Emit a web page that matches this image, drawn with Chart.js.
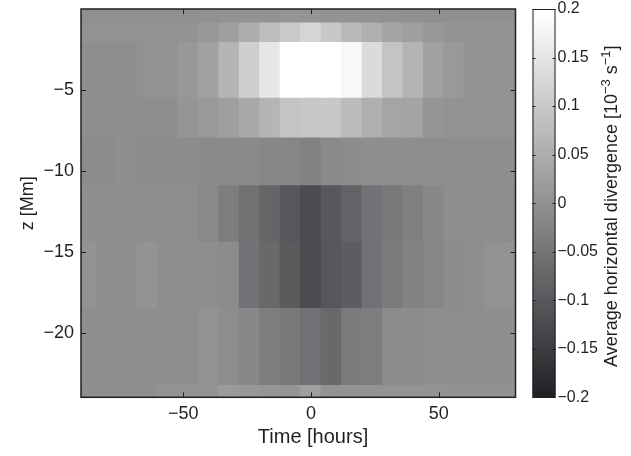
<!DOCTYPE html>
<html><head><meta charset="utf-8">
<script src="https://cdn.jsdelivr.net/npm/chart.js@4.4.0/dist/chart.umd.min.js"></script>
<style>html,body{margin:0;padding:0;background:#fff;}#wrap{width:631px;height:456px;}</style>
</head><body><div id="wrap"><canvas id="c" width="631" height="456"></canvas></div>
<script>
// ---- data ----
const timeCenters = [-88,-80,-72,-64,-56,-48,-40,-32,-24,-16,-8,0,8,16,24,32,40,48,56,64,72,80];
const depthEdges = [0,-0.8,-2.0,-5.45,-7.9,-10.85,-14.35,-18.45,-23.2,-24];
const row0 = [-0.003,-0.003,-0.003,-0.002,-0.002,-0.001,0.000,0.002,0.004,0.005,0.006,0.006,0.005,0.004,0.002,0.000,-0.001,-0.002,-0.002,-0.003,-0.003,-0.003];
const row1 = [0.002,0.002,0.002,0.002,0.002,0.005,0.013,0.027,0.053,0.082,0.105,0.124,0.100,0.076,0.056,0.036,0.027,0.013,0.007,0.004,0.004,0.004];
const row2 = [-0.005,-0.005,-0.005,0.002,0.002,0.013,0.031,0.064,0.113,0.156,0.215,0.240,0.225,0.187,0.136,0.093,0.064,0.031,0.016,0.005,0.005,0.005];
const row3 = [-0.005,-0.005,-0.005,-0.005,-0.005,0.009,0.016,0.027,0.045,0.067,0.093,0.100,0.100,0.078,0.056,0.038,0.035,0.009,0.005,0.005,0.005,0.005];
const row4 = [-0.009,-0.008,-0.003,-0.009,-0.009,-0.009,-0.011,-0.012,-0.012,-0.018,-0.020,-0.027,-0.012,-0.009,-0.004,-0.004,-0.004,-0.004,-0.004,-0.004,-0.004,-0.004];
const row5 = [-0.003,-0.005,-0.005,-0.005,-0.005,-0.005,-0.014,-0.036,-0.058,-0.080,-0.105,-0.125,-0.102,-0.083,-0.055,-0.043,-0.030,-0.016,-0.005,-0.005,-0.005,-0.005];
const row6 = [0.004,-0.005,-0.005,0.005,-0.005,-0.005,-0.005,-0.009,-0.055,-0.072,-0.100,-0.127,-0.104,-0.093,-0.055,-0.040,-0.024,-0.020,-0.009,-0.005,0.002,0.005];
const row7 = [-0.005,-0.005,-0.005,-0.005,-0.005,-0.005,0.002,-0.005,-0.016,-0.035,-0.043,-0.057,-0.072,-0.040,-0.036,-0.009,-0.009,-0.005,-0.005,-0.005,-0.002,-0.002];
const row8 = [-0.003,-0.003,-0.003,-0.003,0.004,0.004,0.004,0.020,0.013,0.009,0.009,0.027,0.005,0.005,0.005,0.005,0.005,0.005,0.002,0.002,0.002,0.002];
const rows = [row0,row1,row2,row3,row4,row5,row6,row7,row8];

const xTickValues = [-50,0,50];
const xTickLabels = ['\u221250','0','50'];
const yTickValues = [-5,-10,-15,-20];
const yTickLabels = ['\u22125','\u221210','\u221215','\u221220'];
const cbTickValues = [0.2,0.15,0.1,0.05,0,-0.05,-0.1,-0.15,-0.2];
const cbTickLabels = ['0.2','0.15','0.1','0.05','0','\u22120.05','\u22120.1','\u22120.15','\u22120.2'];
const colorMin = -0.2, colorMax = 0.2;
const xTitle = 'Time [hours]';
const yTitle = 'z [Mm]';
const cbTitleParts = [['Average horizontal divergence [10',false],['\u22123',true],[' s',false],['\u22121',true],[']',false]];

// ---- styling ----
const FONT = '"Liberation Sans", Arial, Helvetica, sans-serif';
const INK = '#231f20';
function grayColor(v){
  let t = (v - colorMin) / (colorMax - colorMin);
  t = Math.max(0, Math.min(1, t));
  const r = Math.round(35 + 219*t), g = Math.round(33 + 222*t), b = Math.round(38 + 217*t);
  return 'rgb(' + r + ',' + g + ',' + Math.min(255,b) + ')';
}

const datasets = rows.map((vals, k) => ({
  label: 'z ' + depthEdges[k] + ' to ' + depthEdges[k+1],
  data: timeCenters.map(t => ({x: t, y: [depthEdges[k+1], depthEdges[k]]})),
  backgroundColor: vals.map(grayColor),
  borderWidth: 0,
  inflateAmount: 0.6,
  grouped: false,
  categoryPercentage: 1,
  barPercentage: 1,
  clip: 0
}));

const frameTicks = {
  id: 'frameTicks',
  afterDraw(chart){
    const ctx = chart.ctx, a = chart.chartArea;
    const xs = chart.scales.x, ys = chart.scales.y, cs = chart.scales.y2;
    ctx.save();
    // colorbar
    const cbL = a.right + 17, cbR = a.right + 40;
    const n = 64;
    for (let k = 0; k < n; k++){
      const lo = colorMin + (colorMax-colorMin)*k/n, hi = colorMin + (colorMax-colorMin)*(k+1)/n;
      const yT = cs.getPixelForValue(hi), yB = cs.getPixelForValue(lo);
      ctx.fillStyle = grayColor(colorMin + (colorMax-colorMin)*k/(n-1));
      ctx.fillRect(cbL, Math.floor(yT), cbR-cbL, Math.ceil(yB)-Math.floor(yT));
    }
    ctx.strokeStyle = INK; ctx.lineWidth = 1;
    const cT = cs.getPixelForValue(colorMax), cB = cs.getPixelForValue(colorMin);
    ctx.strokeRect(cbL+0.5, cT+0.5, cbR-cbL-1, cB-cT-1);
    ctx.beginPath();
    cbTickValues.forEach(v => {
      const p = Math.round(cs.getPixelForValue(v)) + 0.5;
      ctx.moveTo(cbL, p); ctx.lineTo(cbL+3, p);
      ctx.moveTo(cbR, p); ctx.lineTo(cbR-3, p);
    });
    ctx.stroke();
    // frame
    ctx.lineWidth = 1.5;
    ctx.strokeRect(a.left, a.top, a.right-a.left, a.bottom-a.top);
    ctx.lineWidth = 1;
    ctx.beginPath();
    xTickValues.forEach(v => {
      const p = Math.round(xs.getPixelForValue(v)) + 0.5;
      ctx.moveTo(p, a.bottom); ctx.lineTo(p, a.bottom-5);
      ctx.moveTo(p, a.top); ctx.lineTo(p, a.top+5);
    });
    yTickValues.forEach(v => {
      const p = Math.round(ys.getPixelForValue(v)) + 0.5;
      ctx.moveTo(a.left, p); ctx.lineTo(a.left+5, p);
      ctx.moveTo(a.right, p); ctx.lineTo(a.right-5, p);
    });
    ctx.stroke();
    // x-axis title
    ctx.fillStyle = INK; ctx.textBaseline = 'middle'; ctx.textAlign = 'center';
    ctx.font = '20px ' + FONT;
    ctx.fillText(xTitle, a.left + 232, a.bottom + 40);
    // colorbar title (rotated, reads bottom to top)
    const mainF = '18px ' + FONT, supF = '13px ' + FONT;
    let total = 0;
    cbTitleParts.forEach(([t, sup]) => { ctx.font = sup ? supF : mainF; total += ctx.measureText(t).width; });
    ctx.translate(a.right + 97, (cT + cB)/2 + 3);
    ctx.rotate(-Math.PI/2);
    ctx.textAlign = 'left';
    let x = -total/2;
    cbTitleParts.forEach(([t, sup]) => {
      ctx.font = sup ? supF : mainF;
      ctx.fillText(t, x, sup ? -6 : 0);
      x += ctx.measureText(t).width;
    });
    ctx.restore();
  }
};

function pick(values, labels){ return (v) => { const i = values.findIndex(u => Math.abs(u - v) < 1e-9); return i < 0 ? '' : labels[i]; }; }
function noVPad(s){ s.paddingTop = 0; s.paddingBottom = 0; }

new Chart(document.getElementById('c'), {
  type: 'bar',
  data: { datasets },
  options: {
    responsive: false,
    animation: false,
    devicePixelRatio: 1,
    layout: { padding: { top: 9, left: 0, right: 0, bottom: 0 } },
    plugins: { legend: { display: false }, tooltip: { enabled: false } },
    events: [],
    scales: {
      x: {
        type: 'linear', min: -90, max: 80, offset: false,
        grid: { display: false, drawTicks: false }, border: { display: false },
        afterBuildTicks: s => { s.ticks = xTickValues.map(v => ({value: v})); },
        ticks: { callback: pick(xTickValues, xTickLabels), color: INK, font: { family: FONT, size: 18 }, padding: 6, maxRotation: 0, autoSkip: false },
        title: { display: false },
        afterFit: s => { s.height = 58.7; s.paddingLeft = 0; s.paddingRight = 0; }
      },
      y: {
        type: 'linear', min: -24, max: 0, position: 'left',
        grid: { display: false, drawTicks: false }, border: { display: false },
        afterBuildTicks: s => { s.ticks = yTickValues.map(v => ({value: v})); },
        ticks: { callback: pick(yTickValues, yTickLabels), color: INK, font: { family: FONT, size: 18 }, padding: 7, autoSkip: false },
        title: { display: true, text: yTitle, color: INK, font: { family: FONT, size: 18 }, padding: { top: 17, bottom: 0 } },
        afterFit: s => { s.width = 81; noVPad(s); }
      },
      y2: {
        type: 'linear', axis: 'y', position: 'right', min: colorMin, max: colorMax,
        grid: { display: false, drawTicks: false }, border: { display: false },
        afterBuildTicks: s => { s.ticks = cbTickValues.map(v => ({value: v})); },
        ticks: { callback: pick(cbTickValues, cbTickLabels), color: INK, font: { family: FONT, size: 16 }, padding: 42, autoSkip: false },
        afterFit: s => { s.width = 115.5; noVPad(s); }
      }
    }
  },
  plugins: [frameTicks]
});
</script></body></html>
